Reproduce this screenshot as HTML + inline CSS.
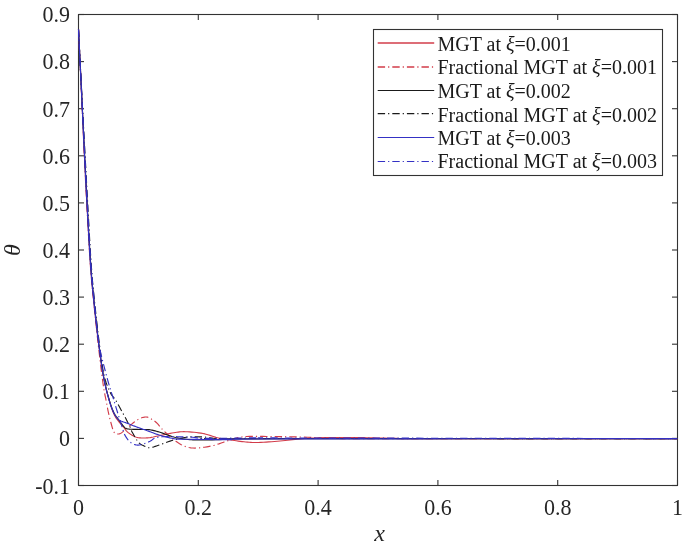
<!DOCTYPE html>
<html><head><meta charset="utf-8"><title>MGT plot</title>
<style>html,body{margin:0;padding:0;background:#fff;width:685px;height:545px;overflow:hidden}svg{display:block}</style>
</head><body>
<svg width="685" height="545" viewBox="0 0 685 545">
<rect x="0" y="0" width="685" height="545" fill="#fff"/>
<g stroke="#333333" stroke-width="1.1" fill="none">
<rect x="78.5" y="14.5" width="599.0" height="471.0"/>
<line x1="78.5" y1="14.50" x2="84.0" y2="14.50"/>
<line x1="677.5" y1="14.50" x2="672.0" y2="14.50"/>
<line x1="78.5" y1="61.60" x2="84.0" y2="61.60"/>
<line x1="677.5" y1="61.60" x2="672.0" y2="61.60"/>
<line x1="78.5" y1="108.70" x2="84.0" y2="108.70"/>
<line x1="677.5" y1="108.70" x2="672.0" y2="108.70"/>
<line x1="78.5" y1="155.80" x2="84.0" y2="155.80"/>
<line x1="677.5" y1="155.80" x2="672.0" y2="155.80"/>
<line x1="78.5" y1="202.90" x2="84.0" y2="202.90"/>
<line x1="677.5" y1="202.90" x2="672.0" y2="202.90"/>
<line x1="78.5" y1="250.00" x2="84.0" y2="250.00"/>
<line x1="677.5" y1="250.00" x2="672.0" y2="250.00"/>
<line x1="78.5" y1="297.10" x2="84.0" y2="297.10"/>
<line x1="677.5" y1="297.10" x2="672.0" y2="297.10"/>
<line x1="78.5" y1="344.20" x2="84.0" y2="344.20"/>
<line x1="677.5" y1="344.20" x2="672.0" y2="344.20"/>
<line x1="78.5" y1="391.30" x2="84.0" y2="391.30"/>
<line x1="677.5" y1="391.30" x2="672.0" y2="391.30"/>
<line x1="78.5" y1="438.40" x2="84.0" y2="438.40"/>
<line x1="677.5" y1="438.40" x2="672.0" y2="438.40"/>
<line x1="78.5" y1="485.50" x2="84.0" y2="485.50"/>
<line x1="677.5" y1="485.50" x2="672.0" y2="485.50"/>
<line x1="78.50" y1="485.5" x2="78.50" y2="480.0"/>
<line x1="78.50" y1="14.5" x2="78.50" y2="20.0"/>
<line x1="198.30" y1="485.5" x2="198.30" y2="480.0"/>
<line x1="198.30" y1="14.5" x2="198.30" y2="20.0"/>
<line x1="318.10" y1="485.5" x2="318.10" y2="480.0"/>
<line x1="318.10" y1="14.5" x2="318.10" y2="20.0"/>
<line x1="437.90" y1="485.5" x2="437.90" y2="480.0"/>
<line x1="437.90" y1="14.5" x2="437.90" y2="20.0"/>
<line x1="557.70" y1="485.5" x2="557.70" y2="480.0"/>
<line x1="557.70" y1="14.5" x2="557.70" y2="20.0"/>
<line x1="677.50" y1="485.5" x2="677.50" y2="480.0"/>
<line x1="677.50" y1="14.5" x2="677.50" y2="20.0"/>
</g>
<clipPath id="cp"><rect x="77.5" y="13.5" width="601.0" height="473.0"/></clipPath>
<g clip-path="url(#cp)" fill="none" stroke-width="1.15" stroke-linejoin="round">
<path d="M78.50,29.50 L78.71,33.97 L78.99,39.68 L79.31,46.46 L79.68,54.12 L80.08,62.49 L80.51,71.38 L80.95,80.61 L81.40,90.00 L81.87,99.91 L82.37,110.66 L82.90,122.03 L83.45,133.78 L84.01,145.69 L84.58,157.51 L85.14,169.03 L85.70,180.00 L86.26,190.75 L86.83,201.64 L87.42,212.49 L88.00,223.12 L88.58,233.37 L89.14,243.05 L89.68,251.98 L90.20,260.00 L90.67,266.88 L91.11,272.70 L91.52,277.71 L91.91,282.19 L92.31,286.39 L92.74,290.59 L93.19,295.03 L93.70,300.00 L94.26,305.47 L94.86,311.18 L95.50,317.04 L96.16,322.94 L96.82,328.78 L97.49,334.48 L98.16,339.92 L98.80,345.00 L99.43,349.77 L100.05,354.35 L100.66,358.74 L101.28,362.94 L101.90,366.96 L102.52,370.80 L103.16,374.48 L103.80,378.00 L104.46,381.33 L105.14,384.47 L105.83,387.42 L106.53,390.20 L107.22,392.83 L107.90,395.33 L108.56,397.72 L109.20,400.00 L109.81,402.16 L110.41,404.18 L110.99,406.07 L111.56,407.83 L112.12,409.47 L112.68,411.01 L113.24,412.45 L113.80,413.80 L114.36,415.02 L114.91,416.08 L115.45,417.01 L115.99,417.86 L116.54,418.64 L117.10,419.40 L117.69,420.18 L118.30,421.00 L118.96,421.86 L119.67,422.72 L120.41,423.58 L121.16,424.42 L121.90,425.24 L122.61,426.03 L123.29,426.79 L123.90,427.50 L124.42,428.16 L124.85,428.76 L125.23,429.33 L125.59,429.86 L125.96,430.39 L126.38,430.91 L126.88,431.44 L127.50,432.00 L128.25,432.60 L129.11,433.24 L130.04,433.90 L131.02,434.55 L132.03,435.18 L133.03,435.76 L134.00,436.27 L134.90,436.70 L135.73,437.04 L136.52,437.30 L137.27,437.51 L138.02,437.67 L138.78,437.79 L139.56,437.87 L140.40,437.94 L141.30,438.00 L142.27,438.04 L143.30,438.05 L144.37,438.04 L145.48,438.00 L146.60,437.93 L147.74,437.85 L148.87,437.73 L150.00,437.60 L151.09,437.44 L152.14,437.26 L153.18,437.05 L154.23,436.81 L155.33,436.56 L156.51,436.29 L157.79,436.00 L159.20,435.70 L160.79,435.36 L162.54,434.98 L164.41,434.57 L166.34,434.14 L168.30,433.73 L170.23,433.34 L172.08,432.99 L173.80,432.70 L175.36,432.46 L176.79,432.24 L178.15,432.06 L179.47,431.90 L180.82,431.78 L182.24,431.71 L183.78,431.68 L185.50,431.70 L187.43,431.77 L189.54,431.89 L191.77,432.06 L194.07,432.27 L196.40,432.52 L198.69,432.81 L200.91,433.14 L203.00,433.50 L204.99,433.93 L206.93,434.46 L208.83,435.04 L210.68,435.65 L212.49,436.26 L214.24,436.84 L215.95,437.37 L217.60,437.80 L219.15,438.14 L220.59,438.42 L221.95,438.64 L223.27,438.83 L224.60,439.01 L225.97,439.18 L227.42,439.37 L229.00,439.60 L230.71,439.87 L232.51,440.16 L234.39,440.46 L236.31,440.77 L238.26,441.07 L240.21,441.35 L242.13,441.59 L244.00,441.80 L245.78,441.97 L247.47,442.13 L249.13,442.27 L250.79,442.38 L252.50,442.46 L254.31,442.51 L256.26,442.53 L258.40,442.50 L260.77,442.42 L263.33,442.29 L266.04,442.13 L268.85,441.93 L271.70,441.70 L274.54,441.47 L277.33,441.23 L280.00,441.00 L282.58,440.76 L285.11,440.49 L287.62,440.21 L290.10,439.93 L292.57,439.64 L295.04,439.37 L297.51,439.12 L300.00,438.90 L302.47,438.71 L304.88,438.54 L307.28,438.38 L309.69,438.24 L312.13,438.11 L314.65,438.00 L317.26,437.89 L320.00,437.80 L322.89,437.72 L325.90,437.65 L329.01,437.60 L332.19,437.56 L335.41,437.53 L338.63,437.51 L341.84,437.50 L345.00,437.50 L348.09,437.51 L351.13,437.52 L354.16,437.55 L357.19,437.59 L360.26,437.63 L363.40,437.68 L366.64,437.74 L370.00,437.80 L373.51,437.87 L377.15,437.96 L380.88,438.06 L384.69,438.16 L388.53,438.26 L392.38,438.36 L396.22,438.44 L400.00,438.50 L402.26,438.54 L402.40,438.57 L401.69,438.59 L401.41,438.59 L402.82,438.60 L407.21,438.60 L415.84,438.60 L430.00,438.60 L452.22,438.60 L482.38,438.61 L517.76,438.61 L555.62,438.61 L593.26,438.60 L627.93,438.60 L656.92,438.60 L677.50,438.60" stroke="#d23c4a"/>
<path d="M78.50,29.50 L78.71,33.97 L78.98,39.68 L79.30,46.46 L79.67,54.12 L80.06,62.49 L80.48,71.38 L80.91,80.61 L81.35,90.00 L81.80,99.91 L82.29,110.66 L82.80,122.03 L83.32,133.78 L83.86,145.69 L84.41,157.51 L84.96,169.03 L85.50,180.00 L86.05,190.75 L86.62,201.64 L87.21,212.49 L87.79,223.12 L88.37,233.37 L88.94,243.05 L89.48,251.98 L90.00,260.00 L90.48,266.88 L90.91,272.70 L91.33,277.71 L91.73,282.19 L92.14,286.39 L92.56,290.59 L93.01,295.03 L93.50,300.00 L94.04,305.43 L94.61,311.04 L95.20,316.77 L95.82,322.56 L96.44,328.34 L97.07,334.05 L97.69,339.63 L98.30,345.00 L98.91,350.32 L99.54,355.71 L100.18,361.08 L100.82,366.31 L101.44,371.32 L102.03,376.01 L102.59,380.27 L103.10,384.00 L103.56,387.13 L103.97,389.71 L104.35,391.86 L104.71,393.69 L105.04,395.30 L105.36,396.82 L105.68,398.35 L106.00,400.00 L106.31,401.70 L106.61,403.30 L106.89,404.84 L107.16,406.31 L107.43,407.75 L107.71,409.16 L108.00,410.58 L108.30,412.00 L108.62,413.44 L108.94,414.87 L109.28,416.29 L109.62,417.70 L109.96,419.08 L110.31,420.43 L110.65,421.74 L111.00,423.00 L111.34,424.25 L111.68,425.51 L112.02,426.75 L112.36,427.95 L112.70,429.08 L113.06,430.12 L113.42,431.03 L113.80,431.80 L114.19,432.41 L114.59,432.89 L114.99,433.26 L115.41,433.52 L115.83,433.71 L116.27,433.84 L116.73,433.93 L117.20,434.00 L117.69,434.04 L118.18,434.02 L118.69,433.96 L119.22,433.84 L119.76,433.66 L120.32,433.43 L120.90,433.15 L121.50,432.80 L122.11,432.38 L122.73,431.89 L123.37,431.33 L124.03,430.73 L124.71,430.08 L125.43,429.40 L126.19,428.70 L127.00,428.00 L127.89,427.26 L128.86,426.44 L129.89,425.58 L130.95,424.71 L132.01,423.84 L133.04,423.02 L134.01,422.26 L134.90,421.60 L135.70,421.03 L136.44,420.51 L137.14,420.05 L137.80,419.63 L138.44,419.25 L139.08,418.91 L139.73,418.60 L140.40,418.30 L141.10,418.02 L141.81,417.77 L142.52,417.55 L143.24,417.36 L143.94,417.21 L144.62,417.10 L145.28,417.02 L145.90,417.00 L146.46,417.02 L146.97,417.07 L147.44,417.17 L147.90,417.31 L148.36,417.49 L148.85,417.71 L149.39,417.98 L150.00,418.30 L150.67,418.65 L151.36,419.02 L152.10,419.43 L152.86,419.89 L153.67,420.41 L154.50,421.01 L155.38,421.70 L156.30,422.50 L157.23,423.42 L158.17,424.45 L159.13,425.58 L160.13,426.78 L161.20,428.04 L162.35,429.35 L163.61,430.67 L165.00,432.00 L166.55,433.41 L168.27,434.94 L170.10,436.55 L172.02,438.17 L173.97,439.76 L175.91,441.24 L177.80,442.58 L179.60,443.70 L181.28,444.64 L182.86,445.45 L184.40,446.14 L185.93,446.71 L187.49,447.18 L189.12,447.55 L190.88,447.82 L192.80,448.00 L194.90,448.07 L197.16,448.01 L199.54,447.85 L201.99,447.59 L204.48,447.25 L206.97,446.84 L209.42,446.39 L211.80,445.90 L214.14,445.33 L216.50,444.63 L218.87,443.85 L221.21,443.02 L223.52,442.19 L225.76,441.38 L227.93,440.64 L230.00,440.00 L231.87,439.44 L233.51,438.92 L235.03,438.44 L236.51,437.99 L238.06,437.60 L239.75,437.25 L241.70,436.95 L244.00,436.70 L246.65,436.52 L249.56,436.42 L252.70,436.37 L256.00,436.36 L259.43,436.39 L262.94,436.43 L266.48,436.47 L270.00,436.50 L273.56,436.53 L277.22,436.56 L280.96,436.61 L284.75,436.68 L288.57,436.75 L292.41,436.82 L296.22,436.91 L300.00,437.00 L303.75,437.10 L307.50,437.22 L311.25,437.36 L315.00,437.49 L318.75,437.63 L322.50,437.77 L326.25,437.89 L330.00,438.00 L331.78,438.10 L330.76,438.19 L328.62,438.28 L327.03,438.36 L327.69,438.44 L332.29,438.50 L342.49,438.56 L360.00,438.60 L388.10,438.63 L426.60,438.64 L471.96,438.64 L520.62,438.64 L569.06,438.63 L613.71,438.61 L651.04,438.60 L677.50,438.60" stroke="#d23c4a" stroke-dasharray="7.4 3 1.2 3"/>
<path d="M78.50,29.50 L78.72,33.97 L78.99,39.68 L79.32,46.46 L79.70,54.12 L80.10,62.49 L80.54,71.38 L80.99,80.61 L81.45,90.00 L81.93,99.91 L82.46,110.66 L83.01,122.03 L83.58,133.78 L84.16,145.69 L84.75,157.51 L85.33,169.03 L85.90,180.00 L86.47,190.75 L87.04,201.64 L87.63,212.49 L88.21,223.12 L88.78,233.37 L89.34,243.05 L89.89,251.98 L90.40,260.00 L90.87,266.88 L91.31,272.70 L91.72,277.71 L92.11,282.19 L92.51,286.39 L92.94,290.59 L93.39,295.03 L93.90,300.00 L94.46,305.47 L95.07,311.18 L95.71,317.04 L96.37,322.94 L97.04,328.78 L97.71,334.48 L98.37,339.92 L99.00,345.00 L99.61,349.77 L100.21,354.35 L100.80,358.74 L101.38,362.94 L101.97,366.96 L102.56,370.80 L103.17,374.48 L103.80,378.00 L104.45,381.34 L105.13,384.50 L105.82,387.47 L106.51,390.28 L107.21,392.93 L107.89,395.43 L108.56,397.78 L109.20,400.00 L109.81,402.06 L110.41,403.93 L110.99,405.63 L111.56,407.20 L112.12,408.65 L112.68,410.00 L113.24,411.28 L113.80,412.50 L114.36,413.62 L114.91,414.59 L115.45,415.45 L115.99,416.22 L116.54,416.96 L117.10,417.70 L117.69,418.47 L118.30,419.30 L118.96,420.22 L119.67,421.21 L120.41,422.22 L121.16,423.23 L121.90,424.21 L122.61,425.11 L123.29,425.92 L123.90,426.60 L124.41,427.14 L124.81,427.57 L125.15,427.91 L125.47,428.18 L125.83,428.39 L126.25,428.57 L126.80,428.73 L127.50,428.90 L128.39,429.05 L129.44,429.16 L130.60,429.24 L131.83,429.29 L133.10,429.32 L134.36,429.35 L135.57,429.37 L136.70,429.40 L137.77,429.43 L138.82,429.45 L139.87,429.46 L140.89,429.46 L141.88,429.47 L142.83,429.47 L143.74,429.48 L144.60,429.50 L145.37,429.51 L146.04,429.52 L146.64,429.51 L147.22,429.52 L147.81,429.54 L148.44,429.59 L149.16,429.67 L150.00,429.80 L150.93,429.96 L151.91,430.15 L152.93,430.36 L154.03,430.61 L155.19,430.89 L156.43,431.21 L157.77,431.58 L159.20,432.00 L160.77,432.51 L162.48,433.11 L164.30,433.78 L166.19,434.48 L168.12,435.19 L170.05,435.86 L171.96,436.48 L173.80,437.00 L175.59,437.45 L177.36,437.85 L179.12,438.21 L180.88,438.53 L182.63,438.82 L184.40,439.07 L186.19,439.30 L188.00,439.50 L189.75,439.67 L191.41,439.79 L193.04,439.89 L194.70,439.95 L196.46,439.99 L198.39,440.01 L200.55,440.01 L203.00,440.00 L205.78,439.97 L208.84,439.90 L212.11,439.82 L215.56,439.71 L219.13,439.60 L222.76,439.49 L226.40,439.39 L230.00,439.30 L230.96,439.23 L228.21,439.15 L224.00,439.08 L220.59,439.02 L220.24,438.96 L225.18,438.90 L237.69,438.85 L260.00,438.80 L296.50,438.76 L346.91,438.72 L406.53,438.69 L470.62,438.67 L534.49,438.65 L593.40,438.63 L642.64,438.61 L677.50,438.60" stroke="#1a1a1a"/>
<path d="M78.50,29.50 L78.73,33.97 L79.01,39.68 L79.35,46.46 L79.74,54.12 L80.16,62.49 L80.61,71.38 L81.09,80.61 L81.58,90.00 L82.10,99.91 L82.67,110.66 L83.27,122.03 L83.90,133.78 L84.54,145.69 L85.18,157.51 L85.80,169.03 L86.40,180.00 L86.98,190.75 L87.57,201.64 L88.16,212.49 L88.73,223.12 L89.30,233.37 L89.85,243.05 L90.39,251.98 L90.90,260.00 L91.37,266.88 L91.81,272.70 L92.22,277.71 L92.61,282.19 L93.01,286.39 L93.44,290.59 L93.89,295.03 L94.40,300.00 L94.97,305.49 L95.58,311.25 L96.22,317.17 L96.89,323.12 L97.56,329.00 L98.23,334.69 L98.88,340.06 L99.50,345.00 L100.08,349.56 L100.63,353.86 L101.17,357.92 L101.69,361.75 L102.23,365.36 L102.78,368.77 L103.37,371.97 L104.00,375.00 L104.68,377.81 L105.40,380.38 L106.16,382.72 L106.93,384.88 L107.71,386.86 L108.49,388.69 L109.26,390.39 L110.00,392.00 L110.72,393.42 L111.43,394.59 L112.13,395.57 L112.83,396.44 L113.52,397.25 L114.22,398.07 L114.91,398.97 L115.60,400.00 L116.30,401.17 L117.00,402.40 L117.71,403.68 L118.41,404.98 L119.11,406.29 L119.79,407.57 L120.46,408.82 L121.10,410.00 L121.72,411.11 L122.31,412.17 L122.89,413.20 L123.46,414.20 L124.01,415.20 L124.57,416.20 L125.13,417.23 L125.70,418.30 L126.29,419.44 L126.92,420.65 L127.55,421.89 L128.17,423.14 L128.78,424.35 L129.35,425.51 L129.86,426.57 L130.30,427.50 L130.63,428.25 L130.84,428.82 L130.98,429.28 L131.09,429.69 L131.21,430.10 L131.39,430.58 L131.67,431.20 L132.10,432.00 L132.69,433.05 L133.40,434.30 L134.20,435.69 L135.07,437.15 L135.96,438.60 L136.86,439.97 L137.71,441.20 L138.50,442.20 L139.23,442.99 L139.93,443.63 L140.61,444.15 L141.28,444.57 L141.94,444.94 L142.61,445.26 L143.29,445.57 L144.00,445.90 L144.70,446.25 L145.39,446.59 L146.07,446.91 L146.77,447.20 L147.49,447.44 L148.26,447.61 L149.09,447.70 L150.00,447.70 L150.96,447.59 L151.95,447.40 L152.98,447.12 L154.06,446.78 L155.21,446.38 L156.45,445.94 L157.77,445.48 L159.20,445.00 L160.77,444.47 L162.47,443.86 L164.28,443.21 L166.16,442.52 L168.09,441.83 L170.02,441.16 L171.94,440.55 L173.80,440.00 L175.62,439.51 L177.45,439.04 L179.28,438.60 L181.10,438.19 L182.93,437.82 L184.75,437.49 L186.58,437.22 L188.40,437.00 L190.22,436.85 L192.05,436.75 L193.88,436.71 L195.70,436.71 L197.53,436.75 L199.35,436.82 L201.18,436.90 L203.00,437.00 L204.77,437.14 L206.47,437.33 L208.13,437.56 L209.81,437.81 L211.55,438.05 L213.40,438.28 L215.40,438.47 L217.60,438.60 L217.19,438.67 L212.92,438.69 L207.19,438.68 L202.37,438.64 L200.85,438.60 L205.03,438.55 L217.28,438.51 L240.00,438.50 L277.82,438.50 L330.44,438.51 L392.89,438.53 L460.15,438.54 L527.24,438.56 L589.16,438.58 L640.91,438.59 L677.50,438.60" stroke="#1a1a1a" stroke-dasharray="7.4 3 1.2 3"/>
<path d="M78.50,29.50 L78.71,33.97 L78.99,39.68 L79.31,46.46 L79.68,54.12 L80.08,62.49 L80.51,71.38 L80.95,80.61 L81.40,90.00 L81.87,99.91 L82.37,110.66 L82.90,122.03 L83.45,133.78 L84.01,145.69 L84.58,157.51 L85.14,169.03 L85.70,180.00 L86.26,190.75 L86.83,201.64 L87.42,212.49 L88.00,223.12 L88.58,233.37 L89.14,243.05 L89.68,251.98 L90.20,260.00 L90.67,266.88 L91.11,272.70 L91.52,277.71 L91.91,282.19 L92.31,286.39 L92.74,290.59 L93.19,295.03 L93.70,300.00 L94.26,305.47 L94.86,311.18 L95.50,317.04 L96.16,322.94 L96.82,328.78 L97.49,334.48 L98.16,339.92 L98.80,345.00 L99.43,349.79 L100.06,354.40 L100.70,358.83 L101.32,363.06 L101.95,367.10 L102.57,370.95 L103.19,374.58 L103.80,378.00 L104.41,381.18 L105.01,384.10 L105.62,386.80 L106.21,389.31 L106.80,391.66 L107.38,393.87 L107.95,395.97 L108.50,398.00 L109.03,399.91 L109.55,401.67 L110.05,403.29 L110.54,404.79 L111.03,406.19 L111.52,407.51 L112.00,408.77 L112.50,410.00 L113.00,411.17 L113.51,412.27 L114.01,413.30 L114.52,414.25 L115.02,415.13 L115.52,415.95 L116.01,416.71 L116.50,417.40 L116.95,418.00 L117.36,418.50 L117.75,418.93 L118.14,419.29 L118.56,419.61 L119.03,419.93 L119.57,420.25 L120.20,420.60 L120.93,420.96 L121.73,421.31 L122.59,421.64 L123.51,421.98 L124.47,422.31 L125.46,422.65 L126.47,423.01 L127.50,423.40 L128.57,423.82 L129.70,424.26 L130.87,424.73 L132.06,425.20 L133.26,425.67 L134.45,426.14 L135.60,426.58 L136.70,427.00 L137.77,427.39 L138.82,427.78 L139.87,428.15 L140.89,428.51 L141.88,428.85 L142.83,429.18 L143.74,429.50 L144.60,429.80 L145.37,430.07 L146.04,430.31 L146.64,430.52 L147.22,430.72 L147.81,430.92 L148.44,431.15 L149.16,431.40 L150.00,431.70 L150.93,432.04 L151.91,432.42 L152.93,432.82 L154.03,433.24 L155.19,433.68 L156.43,434.12 L157.77,434.56 L159.20,435.00 L160.77,435.46 L162.47,435.95 L164.28,436.46 L166.16,436.96 L168.09,437.45 L170.02,437.90 L171.94,438.29 L173.80,438.60 L175.44,438.83 L176.82,438.99 L178.09,439.09 L179.41,439.16 L180.95,439.19 L182.85,439.22 L185.28,439.25 L188.40,439.30 L192.39,439.36 L197.17,439.42 L202.53,439.48 L208.24,439.53 L214.06,439.57 L219.78,439.60 L225.17,439.61 L230.00,439.60 L231.66,439.57 L229.23,439.51 L225.07,439.43 L221.51,439.34 L220.88,439.25 L225.53,439.16 L237.79,439.07 L260.00,439.00 L296.50,438.94 L346.91,438.88 L406.53,438.82 L470.62,438.76 L534.49,438.71 L593.40,438.67 L642.64,438.63 L677.50,438.60" stroke="#3431c4"/>
<path d="M78.50,29.50 L78.72,33.97 L79.00,39.68 L79.34,46.46 L79.72,54.12 L80.14,62.49 L80.58,71.38 L81.05,80.61 L81.53,90.00 L82.03,99.91 L82.58,110.66 L83.16,122.03 L83.77,133.78 L84.39,145.69 L85.00,157.51 L85.61,169.03 L86.20,180.00 L86.78,190.75 L87.36,201.64 L87.94,212.49 L88.52,223.12 L89.09,233.37 L89.65,243.05 L90.19,251.98 L90.70,260.00 L91.17,266.88 L91.61,272.70 L92.02,277.71 L92.41,282.19 L92.81,286.39 L93.24,290.59 L93.69,295.03 L94.20,300.00 L94.76,305.52 L95.35,311.37 L95.97,317.39 L96.61,323.44 L97.27,329.37 L97.95,335.04 L98.62,340.30 L99.30,345.00 L99.99,349.13 L100.70,352.82 L101.42,356.15 L102.16,359.19 L102.89,362.02 L103.61,364.71 L104.32,367.35 L105.00,370.00 L105.67,372.63 L106.33,375.13 L106.98,377.53 L107.62,379.81 L108.24,382.00 L108.85,384.09 L109.44,386.08 L110.00,388.00 L110.53,389.79 L111.04,391.42 L111.52,392.94 L111.99,394.38 L112.44,395.76 L112.89,397.14 L113.34,398.54 L113.80,400.00 L114.25,401.48 L114.69,402.94 L115.12,404.39 L115.55,405.84 L115.99,407.31 L116.43,408.82 L116.90,410.38 L117.40,412.00 L117.94,413.74 L118.52,415.61 L119.13,417.56 L119.75,419.53 L120.36,421.47 L120.95,423.33 L121.50,425.06 L122.00,426.60 L122.42,427.95 L122.76,429.14 L123.06,430.22 L123.34,431.21 L123.63,432.14 L123.95,433.04 L124.33,433.95 L124.80,434.90 L125.35,435.89 L125.96,436.90 L126.63,437.91 L127.32,438.89 L128.05,439.84 L128.80,440.71 L129.55,441.51 L130.30,442.20 L131.06,442.79 L131.84,443.31 L132.63,443.75 L133.44,444.12 L134.26,444.43 L135.08,444.67 L135.89,444.86 L136.70,445.00 L137.50,445.07 L138.29,445.06 L139.08,444.98 L139.87,444.84 L140.66,444.67 L141.46,444.46 L142.28,444.23 L143.10,444.00 L143.92,443.75 L144.74,443.48 L145.55,443.18 L146.38,442.86 L147.22,442.50 L148.10,442.13 L149.02,441.73 L150.00,441.30 L150.90,440.81 L151.67,440.24 L152.40,439.62 L153.21,438.98 L154.18,438.37 L155.44,437.81 L157.08,437.34 L159.20,437.00 L161.99,436.79 L165.44,436.67 L169.33,436.63 L173.46,436.65 L177.64,436.72 L181.66,436.81 L185.31,436.91 L188.40,437.00 L190.84,437.11 L192.79,437.27 L194.40,437.45 L195.84,437.66 L197.26,437.86 L198.82,438.04 L200.68,438.20 L203.00,438.30 L205.76,438.36 L208.81,438.38 L212.08,438.38 L215.54,438.36 L219.11,438.32 L222.75,438.28 L226.40,438.24 L230.00,438.20 L233.54,438.16 L237.05,438.11 L240.59,438.05 L244.19,437.98 L247.89,437.92 L251.73,437.86 L255.75,437.82 L260.00,437.80 L262.21,437.79 L261.39,437.80 L259.44,437.81 L258.28,437.84 L259.84,437.87 L266.04,437.91 L278.78,437.95 L300.00,438.00 L333.62,438.06 L379.49,438.14 L433.43,438.22 L491.25,438.31 L548.75,438.40 L601.76,438.48 L646.07,438.55 L677.50,438.60" stroke="#3431c4" stroke-dasharray="7.4 3 1.2 3"/>
</g>
<g font-family="Liberation Serif, serif" font-size="22" fill="#262626">
<text transform="translate(70,22.00) scale(1,1.07)" text-anchor="end">0.9</text>
<text transform="translate(70,69.10) scale(1,1.07)" text-anchor="end">0.8</text>
<text transform="translate(70,116.70) scale(1,1.07)" text-anchor="end">0.7</text>
<text transform="translate(70,163.80) scale(1,1.07)" text-anchor="end">0.6</text>
<text transform="translate(70,210.90) scale(1,1.07)" text-anchor="end">0.5</text>
<text transform="translate(70,258.00) scale(1,1.07)" text-anchor="end">0.4</text>
<text transform="translate(70,305.10) scale(1,1.07)" text-anchor="end">0.3</text>
<text transform="translate(70,352.20) scale(1,1.07)" text-anchor="end">0.2</text>
<text transform="translate(70,399.30) scale(1,1.07)" text-anchor="end">0.1</text>
<text transform="translate(70,446.40) scale(1,1.07)" text-anchor="end">0</text>
<text transform="translate(70,493.50) scale(1,1.07)" text-anchor="end">-0.1</text>
<text transform="translate(78.50,515.3) scale(1,1.08)" text-anchor="middle">0</text>
<text transform="translate(198.30,515.3) scale(1,1.08)" text-anchor="middle">0.2</text>
<text transform="translate(318.10,515.3) scale(1,1.08)" text-anchor="middle">0.4</text>
<text transform="translate(437.90,515.3) scale(1,1.08)" text-anchor="middle">0.6</text>
<text transform="translate(557.70,515.3) scale(1,1.08)" text-anchor="middle">0.8</text>
<text transform="translate(677.50,515.3) scale(1,1.08)" text-anchor="middle">1</text>
</g>
<text x="379.5" y="541" font-family="Liberation Serif, serif" font-style="italic" font-size="24" text-anchor="middle" fill="#262626">x</text>
<text transform="translate(20,250) rotate(-90)" font-family="Liberation Serif, serif" font-style="italic" font-size="24" text-anchor="middle" fill="#262626">θ</text>
<rect x="373.5" y="29.5" width="289.0" height="146.0" fill="#fff" stroke="#333333" stroke-width="1.1"/>
<line x1="377.7" y1="43.00" x2="434.2" y2="43.00" stroke="#d23c4a" stroke-width="1.4"/>
<text x="437.5" y="51" font-family="Liberation Serif, serif" font-size="20" fill="#1a1a1a">MGT at <tspan font-style="italic">ξ</tspan>=0.001</text>
<line x1="377.7" y1="67.00" x2="434.2" y2="67.00" stroke="#d23c4a" stroke-width="1.4" stroke-dasharray="7.4 3 1.2 3"/>
<text x="437.5" y="74" font-family="Liberation Serif, serif" font-size="20" fill="#1a1a1a">Fractional MGT at <tspan font-style="italic">ξ</tspan>=0.001</text>
<line x1="377.7" y1="90.50" x2="434.2" y2="90.50" stroke="#1a1a1a" stroke-width="1.15"/>
<text x="437.5" y="98" font-family="Liberation Serif, serif" font-size="20" fill="#1a1a1a">MGT at <tspan font-style="italic">ξ</tspan>=0.002</text>
<line x1="377.7" y1="113.60" x2="434.2" y2="113.60" stroke="#1a1a1a" stroke-width="1.15" stroke-dasharray="7.4 3 1.2 3"/>
<text x="437.5" y="121.5" font-family="Liberation Serif, serif" font-size="20" fill="#1a1a1a">Fractional MGT at <tspan font-style="italic">ξ</tspan>=0.002</text>
<line x1="377.7" y1="137.50" x2="434.2" y2="137.50" stroke="#3431c4" stroke-width="1.15"/>
<text x="437.5" y="145" font-family="Liberation Serif, serif" font-size="20" fill="#1a1a1a">MGT at <tspan font-style="italic">ξ</tspan>=0.003</text>
<line x1="377.7" y1="161.50" x2="434.2" y2="161.50" stroke="#3431c4" stroke-width="1.15" stroke-dasharray="7.4 3 1.2 3"/>
<text x="437.5" y="168.3" font-family="Liberation Serif, serif" font-size="20" fill="#1a1a1a">Fractional MGT at <tspan font-style="italic">ξ</tspan>=0.003</text>
</svg>
</body></html>
